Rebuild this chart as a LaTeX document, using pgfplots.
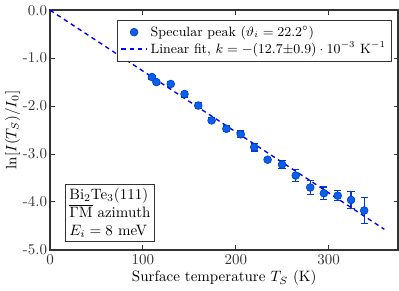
\documentclass[border=0pt]{standalone}
\usepackage{pgfplots}
\pgfplotsset{compat=1.18}
\definecolor{ptfill}{RGB}{10,95,235}
\definecolor{ptedge}{RGB}{0,60,200}
\begin{document}
\begin{tikzpicture}
\begin{axis}[
  width=231bp, height=159bp, scale only axis,
  xmin=0, xmax=375, ymin=-5, ymax=0,
  xtick={0,100,200,300},
  ytick={-5,-4,-3,-2,-1,0},
  yticklabels={-5.0,-4.0,-3.0,-2.0,-1.0,0.0},
  tick align=inside,
  major tick length=3pt,
  axis line style={line width=1pt, black!80},
  major tick style={line width=0.6pt, black!80},
  xlabel={Surface temperature $T_S$ (K)},
  ylabel={$\ln[I(T_S)/I_0]$},
  xlabel style={yshift=3pt},
  ylabel style={yshift=-5pt},
  yticklabel style={xshift=1.5pt},
  tick label style={text=black!80},
  legend style={at={(0.983,0.958)}, anchor=north east, draw=black!80, line width=0.6pt,
     font=\fontsize{9}{11}\selectfont, row sep=-1.5pt, inner xsep=2pt, inner ysep=1.5pt},
  legend cell align=left,
]
\addplot[only marks, mark=*, mark size=2.6pt, mark options={fill=ptfill, draw=ptedge, line width=0.4pt},
  error bars/.cd, y dir=both, y explicit,
  error bar style={ptedge, line width=0.8pt},
  error mark options={rotate=90, mark size=2.4pt, line width=0.8pt, ptedge}]
 coordinates {
 (109.7,-1.395) +- (0,0.04)
 (114.5,-1.50) +- (0,0.04)
 (130,-1.54) +- (0,0.05)
 (144.8,-1.75) +- (0,0.06)
 (159.6,-1.99) +- (0,0.06)
 (174,-2.30) +- (0,0.05)
 (189.9,-2.475) +- (0,0.06)
 (205.4,-2.59) +- (0,0.07)
 (219.9,-2.86) +- (0,0.08)
 (234.3,-3.12) +- (0,0.04)
 (249.8,-3.22) +- (0,0.09)
 (264.6,-3.45) +- (0,0.12)
 (280.2,-3.70) +- (0,0.14)
 (294.9,-3.82) +- (0,0.13)
 (309.8,-3.87) +- (0,0.10)
 (324.2,-3.96) +- (0,0.17)
 (338.3,-4.18) +- (0,0.27)
 };
\addlegendentry{Specular peak ($\vartheta_i = 22.2^\circ$)}
\addplot[blue, line width=0.9pt, dash pattern=on 3pt off 2.5pt] coordinates {(0,0) (360,-4.572)};
\addlegendentry{Linear fit, $k=-(12.7{\pm}0.9)\cdot 10^{-3}$ K$^{-1}$}
\node[draw=black!80, line width=0.6pt, anchor=south west, align=left, inner sep=2.5pt, fill=white]
  at (axis cs:16.3,-4.83) {Bi$_2$Te$_3$(111)\\$\overline{\Gamma\mathrm{M}}$ azimuth\\$E_i = 8$ meV};
\end{axis}
\end{tikzpicture}
\end{document}
